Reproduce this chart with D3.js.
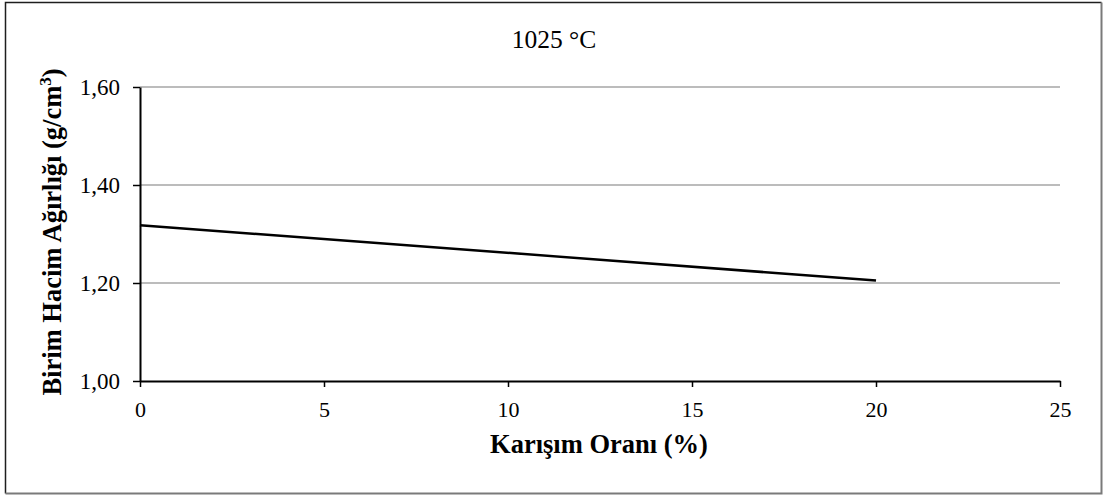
<!DOCTYPE html>
<html>
<head>
<meta charset="utf-8">
<script src="https://cdn.jsdelivr.net/npm/d3@7"></script>
<style>
  html, body { margin: 0; padding: 0; background: #fff; }
  svg { display: block; }
  text { font-family: "Liberation Serif", "Times New Roman", serif; fill: #000; }
</style>
</head>
<body>
<svg id="chart" width="1106" height="497"></svg>
<script>
// Mixing ratio (%) and unit weight (g/cm³) at 1025 °C
const mixRatios = [0, 20];
const unitWeights = [1.318, 1.205];

const xTicks = [0, 5, 10, 15, 20, 25];
const yTicks = [1.00, 1.20, 1.40, 1.60];

const chartTitle = "1025 °C";
const xTitle = "Karışım Oranı (%)";

const W = 1106, H = 497;
const margin = { left: 140, right: 46, top: 87, bottom: 116 };

const svg = d3.select("#chart");
const serif = '"Liberation Serif", "Times New Roman", serif';

// outer frame: dark left/top edges, grey right/bottom edges
const frame = svg.append("g").attr("fill", "none");
frame.append("path")
  .attr("d", "M5.5,493.5 V2.5 H1101.5")
  .attr("stroke", "#1e1e1e").attr("stroke-width", 1.5);
frame.append("path")
  .attr("d", "M1101.5,2.5 V493.5 H5.5")
  .attr("stroke", "#7a7a7a").attr("stroke-width", 2);

const x = d3.scaleLinear().domain([0, 25]).range([margin.left, W - margin.right]);
const y = d3.scaleLinear().domain([1.0, 1.6]).range([H - margin.bottom, margin.top]);

const fmt = d => d3.format(".2f")(d).replace(".", ",");

// horizontal gridlines
svg.append("g")
  .selectAll("line")
  .data(yTicks.filter(v => v > 1.0))
  .join("line")
  .attr("x1", x(0)).attr("x2", x(25))
  .attr("y1", d => y(d)).attr("y2", d => y(d))
  .attr("stroke", "#a6a6a6")
  .attr("stroke-width", 1.5);

// y axis
const yAxis = svg.append("g")
  .attr("transform", `translate(${x(0)},0)`)
  .call(d3.axisLeft(y).tickValues(yTicks).tickFormat(fmt).tickSize(7).tickPadding(13).tickSizeOuter(0))
  .attr("font-family", serif)
  .attr("font-size", 23);
yAxis.select(".domain").attr("stroke", "#000").attr("stroke-width", 2);
yAxis.selectAll(".tick line").attr("stroke", "#000").attr("stroke-width", 1.5);
yAxis.selectAll(".tick text").attr("fill", "#000");

// x axis
const xAxis = svg.append("g")
  .attr("transform", `translate(0,${y(1.0)})`)
  .call(d3.axisBottom(x).tickValues(xTicks).tickFormat(d3.format("d")).tickSize(6).tickPadding(14).tickSizeOuter(0))
  .attr("font-family", serif)
  .attr("font-size", 22);
xAxis.select(".domain").attr("stroke", "#000").attr("stroke-width", 2);
xAxis.selectAll(".tick line").attr("stroke", "#000").attr("stroke-width", 1.5);
xAxis.selectAll(".tick text").attr("fill", "#000");

// data line
const pts = mixRatios.map((m, i) => [m, unitWeights[i]]);
svg.append("path")
  .datum(pts)
  .attr("fill", "none")
  .attr("stroke", "#000")
  .attr("stroke-width", 2.5)
  .attr("d", d3.line().x(d => x(d[0])).y(d => y(d[1])));

// title
svg.append("text")
  .attr("x", 554).attr("y", 48)
  .attr("text-anchor", "middle")
  .attr("font-size", 25.5)
  .text(chartTitle);

// x axis title
svg.append("text")
  .attr("x", 599).attr("y", 453)
  .attr("text-anchor", "middle")
  .attr("font-size", 26.5)
  .attr("font-weight", "bold")
  .text(xTitle);

// y axis title with superscript
const yt = svg.append("text")
  .attr("transform", "translate(61,232) rotate(-90)")
  .attr("text-anchor", "middle")
  .attr("font-size", 26.5)
  .attr("font-weight", "bold");
yt.append("tspan").text("Birim Hacim Ağırlığı (g/cm");
yt.append("tspan").attr("dy", -10).attr("font-size", 17).text("3");
yt.append("tspan").attr("dy", 10).text(")");
</script>
</body>
</html>
